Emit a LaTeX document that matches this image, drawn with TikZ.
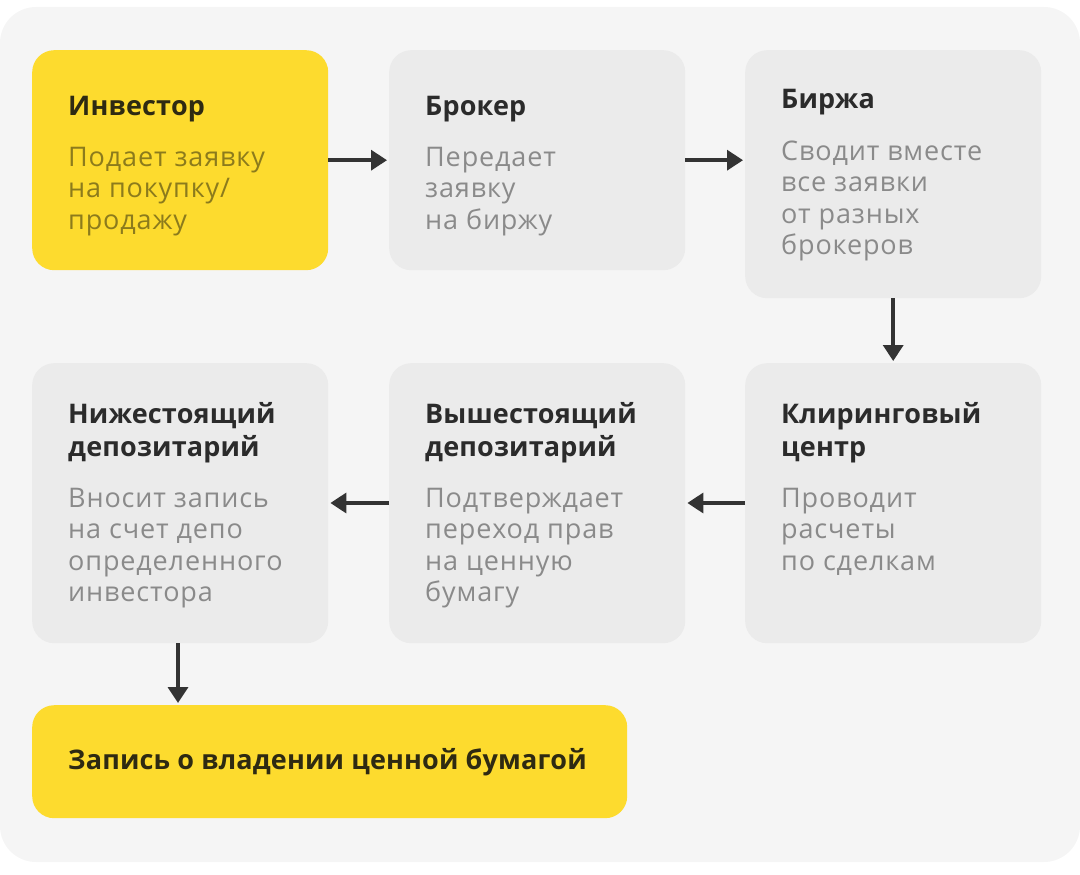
\documentclass[tikz,border=0pt]{standalone}
\usepackage{fontspec}
\setmainfont{Open Sans}[LetterSpace=3.2]
\newfontfamily\headfont{Open Sans}[LetterSpace=0.6]
\usetikzlibrary{arrows.meta}

\definecolor{bgcol}{HTML}{F5F5F5}
\definecolor{boxcol}{HTML}{EBEBEB}
\definecolor{yellowcol}{HTML}{FDDB2E}
\definecolor{titlecol}{HTML}{2B2B2B}
\definecolor{ytitlecol}{HTML}{2E2A12}
\definecolor{textcol}{HTML}{8A8A8A}
\definecolor{ytextcol}{HTML}{8C7B1C}
\definecolor{arrowcol}{HTML}{333333}

\tikzset{
  every box/.style={rectangle, rounded corners=22pt, fill=boxcol,
    minimum width=296pt, anchor=north west, inner sep=0pt},
  box invest/.style={fill=yellowcol},
  box record/.style={fill=yellowcol, minimum width=595pt},
  box title/.style={anchor=base west, align=left, inner sep=0pt,
    font=\fontsize{27}{32.5}\selectfont\headfont\bfseries, text=titlecol},
  box text/.style={anchor=base west, align=left, inner sep=0pt,
    font=\fontsize{27}{31.5}\selectfont, text=textcol},
}

\begin{document}
\begin{tikzpicture}[x=1pt, y=-1pt, >={Triangle[length=16pt,width=20pt]}]

\useasboundingbox (0,0) rectangle (1080,875);
\fill [bgcol, rounded corners=36pt] (0,7) rectangle (1080,862);

\foreach \n/\x/\y/\h in {invest/32/50/220, broker/389/50/220, exchange/745/50/248,
    clearing/745/363/280, upper/389/363/280, lower/32/363/280, record/32/705/113}
  \node [every box/.try, box \n/.try, minimum height=\h] (\n) at (\x,\y) {};

% titles (base = last line)
\node [box title, text=ytitlecol] (invest-t) at ([xshift=36pt,yshift=-65pt]invest.north west) {Инвестор};
\node [box title] (broker-t) at ([xshift=36pt,yshift=-65pt]broker.north west) {Брокер};
\node [box title] (exchange-t) at ([xshift=36pt,yshift=-59pt]exchange.north west) {Биржа};
\node [box title] (clearing-t) at ([xshift=36pt,yshift=-93pt]clearing.north west) {Клиринговый\\центр};
\node [box title] (upper-t) at ([xshift=36pt,yshift=-93pt]upper.north west) {Вышестоящий\\депозитарий};
\node [box title] (lower-t) at ([xshift=36pt,yshift=-93pt]lower.north west) {Нижестоящий\\депозитарий};
\node [box title, text=ytitlecol] (record-t) at ([xshift=36pt,yshift=-64pt]record.north west) {Запись о владении ценной бумагой};

% descriptions
\node [box text, text=ytextcol] (invest-d) at ([xshift=36pt,yshift=-179pt]invest.north west) {Подает заявку\\на покупку/\\продажу};
\node [box text] (broker-d) at ([xshift=36pt,yshift=-179pt]broker.north west) {Передает\\заявку\\на биржу};
\node [box text] (exchange-d) at ([xshift=36pt,yshift=-204.5pt]exchange.north west) {Сводит вместе\\все заявки\\от разных\\брокеров};
\node [box text] (clearing-d) at ([xshift=36pt,yshift=-207pt]clearing.north west) {Проводит\\расчеты\\по сделкам};
\node [box text] (upper-d) at ([xshift=36pt,yshift=-238.5pt]upper.north west) {Подтверждает\\переход прав\\на ценную\\бумагу};
\node [box text] (lower-d) at ([xshift=36pt,yshift=-238.5pt]lower.north west) {Вносит запись\\на счет депо\\определенного\\инвестора};

% arrows
\draw [->, arrowcol, line width=3.5pt, shorten >=2pt] (invest) -- (broker);
\draw [->, arrowcol, line width=3.5pt, shorten >=2pt] (broker.east |- invest.east) -- (exchange.west |- invest.east);
\draw [->, arrowcol, line width=3.5pt, shorten >=2pt] (exchange) -- (clearing);
\draw [->, arrowcol, line width=3.5pt, shorten >=2pt] (clearing.west |- 0,503) -- (upper.east |- 0,503);
\draw [->, arrowcol, line width=3.5pt, shorten >=2pt] (upper.west |- 0,503) -- (lower.east |- 0,503);
\draw [->, arrowcol, line width=3.5pt, shorten >=2pt] (lower.south -| 178,0) -- (record.north -| 178,0);

\end{tikzpicture}
\end{document}
